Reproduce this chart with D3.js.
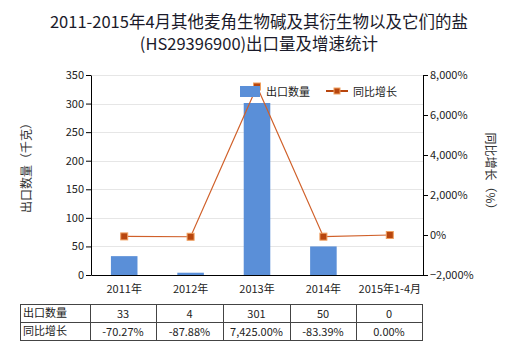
<!DOCTYPE html>
<html><head><meta charset="utf-8">
<script src="https://cdn.jsdelivr.net/npm/d3@7"></script>
<style>body{margin:0;background:#fff;font-family:"Noto Sans CJK SC","Microsoft YaHei",sans-serif;}</style>
</head><body><svg id="c" width="520" height="350"></svg>
<script>
const categories = ["2011年","2012年","2013年","2014年","2015年1-4月"];
const exportQty = [33,4,301,50,0];
const growth = [-70.27,-87.88,7425.00,-83.39,0.00];
const qtyLabels = ["33","4","301","50","0"];
const growthLabels = ["-70.27%","-87.88%","7,425.00%","-83.39%","0.00%"];
const leftTicks = [0,50,100,150,200,250,300,350];
const rightTicks = [-2000,0,2000,4000,6000,8000];

const svg = d3.select("#c");
const font = '"Noto Sans CJK SC",sans-serif';
const L=91,R=423,T=75,B=275;
const x = d3.scaleBand().domain(categories).range([L,R]);
const yL = d3.scaleLinear().domain([0,350]).range([B,T]);
const yR = d3.scaleLinear().domain([-2000,8000]).range([B,T]);

// title
const title = svg.append("text").attr("text-anchor","middle").attr("font-family",font).attr("font-size",16.5).attr("fill","#1a1a2a");
title.append("tspan").attr("x",259).attr("y",28).text("2011-2015年4月其他麦角生物碱及其衍生物以及它们的盐");
title.append("tspan").attr("x",259).attr("y",50).text("(HS29396900)出口量及增速统计");

// gridlines
svg.append("g").selectAll("line").data(leftTicks.slice(1)).join("line")
  .attr("x1",L).attr("x2",R).attr("y1",d=>Math.round(yL(d))+0.5).attr("y2",d=>Math.round(yL(d))+0.5)
  .attr("stroke","#e6e6e6");

// bars
svg.append("g").selectAll("rect").data(exportQty).join("rect")
  .attr("x",(d,i)=>x(categories[i])+x.bandwidth()*0.3)
  .attr("width",x.bandwidth()*0.4)
  .attr("y",d=>yL(d)).attr("height",d=>B-yL(d))
  .attr("fill","#5a8fd8");

// axes
const axL = svg.append("g").attr("transform",`translate(${L},0)`).call(d3.axisLeft(yL).tickValues(leftTicks).tickSize(5).tickSizeOuter(0));
const axR = svg.append("g").attr("transform",`translate(${R},0)`).call(d3.axisRight(yR).tickValues(rightTicks).tickSize(5).tickSizeOuter(0).tickFormat(d=>d3.format(",")(d)+"%"));
const axB = svg.append("g").attr("transform",`translate(0,${B})`).call(d3.axisBottom(x).tickSize(0).tickSizeOuter(0));
[axL,axR,axB].forEach(a=>{a.selectAll("text").attr("font-family",font).attr("font-size",11).attr("fill","#222");a.selectAll("path,line").attr("stroke","#000");});
axB.selectAll("text").attr("dy","1.4em");
axL.selectAll("text").attr("x",-7);
axR.selectAll("text").attr("x",7);

// line
const lineGen = d3.line().x((d,i)=>x(categories[i])+x.bandwidth()/2).y(d=>yR(d));
svg.append("path").datum(growth).attr("d",lineGen).attr("fill","none").attr("stroke","#d0602a").attr("stroke-width",1.2);
svg.append("g").selectAll("rect").data(growth).join("rect")
  .attr("x",(d,i)=>x(categories[i])+x.bandwidth()/2-3.5).attr("y",d=>yR(d)-3.5)
  .attr("width",7).attr("height",7).attr("fill","#b8460e").attr("stroke","#f0a060").attr("stroke-width",1);

// legend
svg.append("rect").attr("x",240).attr("y",86).attr("width",20).attr("height",11).attr("fill","#5a8fd8");
svg.append("text").attr("x",266).attr("y",96).attr("font-family",font).attr("font-size",11).attr("fill","#222").text("出口数量");
svg.append("line").attr("x1",326).attr("x2",348).attr("y1",91).attr("y2",91).attr("stroke","#b8460e").attr("stroke-width",2);
svg.append("rect").attr("x",334).attr("y",88).attr("width",6).attr("height",6).attr("fill","#b8460e").attr("stroke","#f0a060");
svg.append("text").attr("x",353).attr("y",96).attr("font-family",font).attr("font-size",11).attr("fill","#222").text("同比增长");

// axis titles
svg.append("text").attr("transform","translate(31,165) rotate(-90)").attr("text-anchor","middle").attr("font-family",font).attr("font-size",12).attr("fill","#333").text("出口数量（千克）");
svg.append("text").attr("transform","translate(486,174) rotate(90)").attr("text-anchor","middle").attr("font-family",font).attr("font-size",12).attr("fill","#333").text("同比增长（%）");

// table
const colX = [20,90,156,223,290,356,422];
const rowY = [304,322,340];
const tg = svg.append("g");
rowY.forEach(y=>tg.append("line").attr("x1",colX[0]).attr("x2",colX[6]).attr("y1",y+0.5).attr("y2",y+0.5).attr("stroke","#444"));
colX.forEach(cx=>tg.append("line").attr("x1",cx+0.5).attr("x2",cx+0.5).attr("y1",rowY[0]).attr("y2",rowY[2]+1).attr("stroke","#444"));
const rows = [["出口数量",qtyLabels],["同比增长",growthLabels]];
rows.forEach((r,ri)=>{
  tg.append("text").attr("x",colX[0]+3).attr("y",rowY[ri]+13).attr("font-family",font).attr("font-size",11).attr("fill","#222").text(r[0]);
  r[1].forEach((v,ci)=>{
    tg.append("text").attr("x",(colX[ci+1]+colX[ci+2])/2).attr("y",rowY[ri]+14).attr("text-anchor","middle").attr("font-family",font).attr("font-size",11).attr("fill","#222").text(v);
  });
});
</script></body></html>
